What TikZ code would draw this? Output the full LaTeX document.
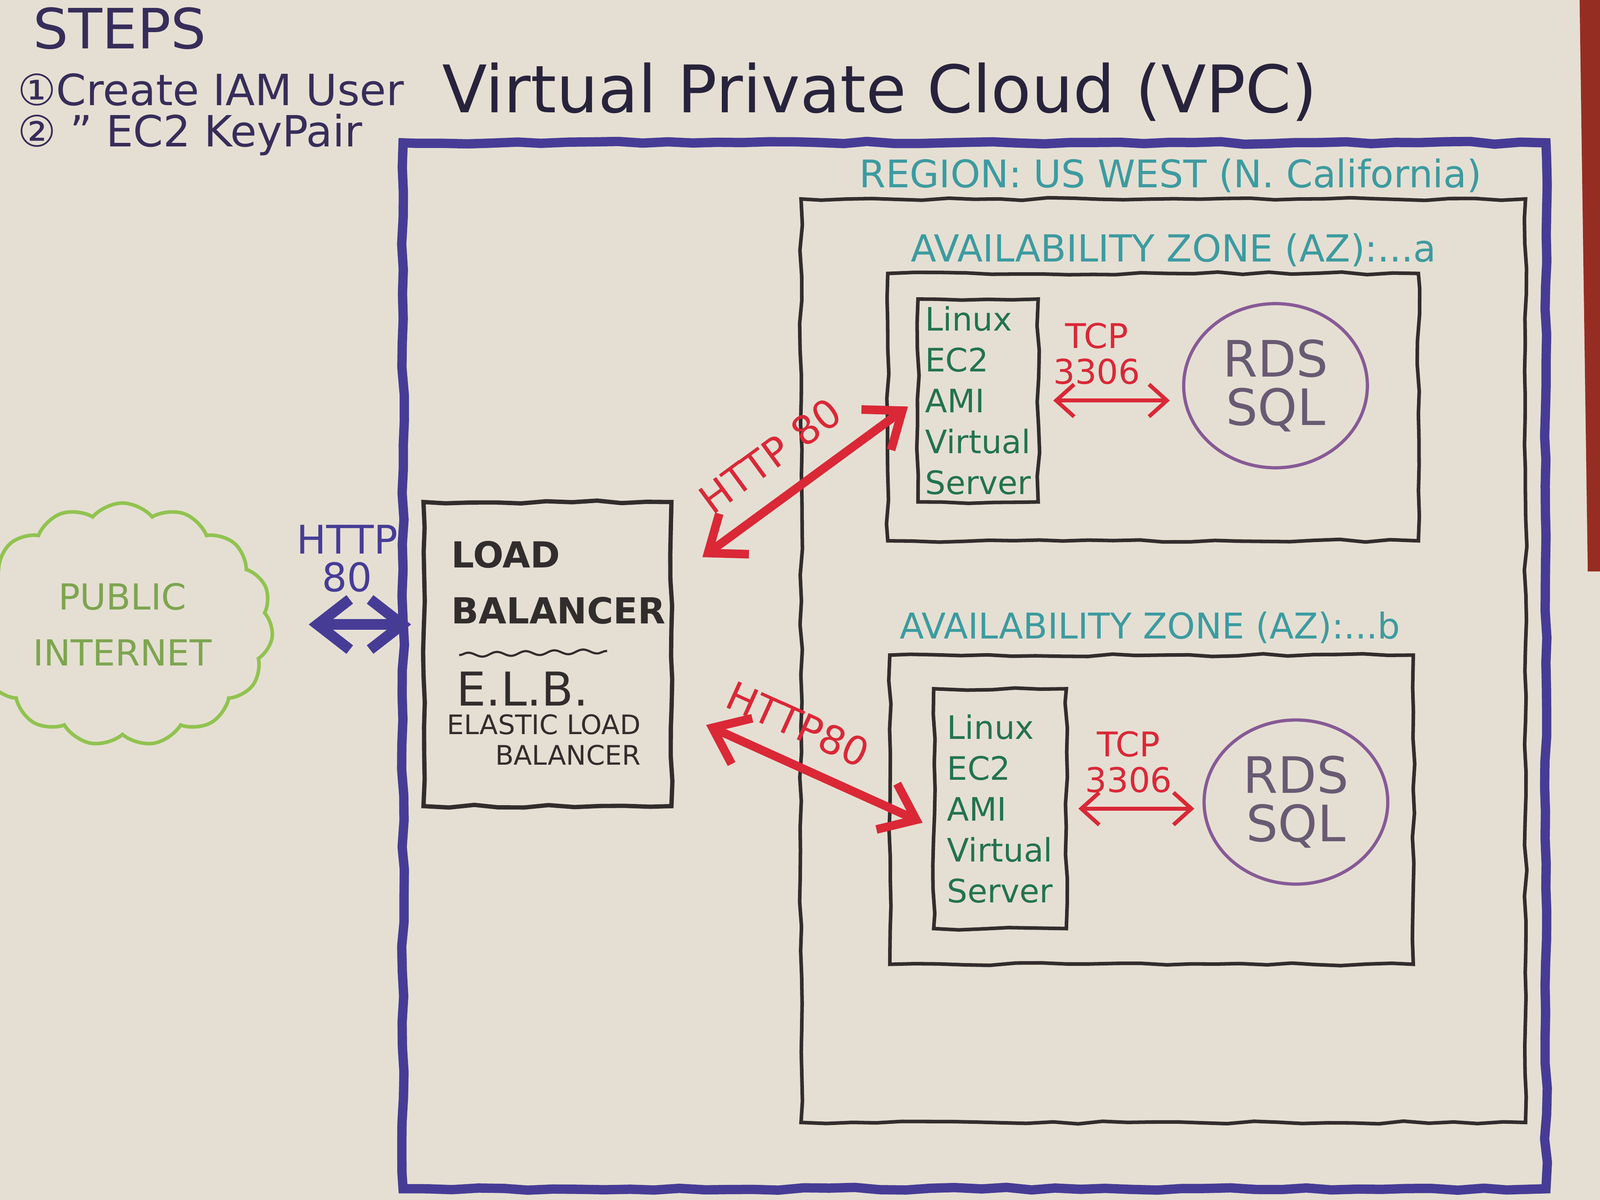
\documentclass[tikz,border=0pt]{standalone}
\usepackage{fontspec}
\setmainfont{DejaVu Sans}
\usetikzlibrary{arrows.meta,shapes.geometric,shapes.symbols,decorations.pathmorphing}

\definecolor{paper}{RGB}{229,223,211}
\definecolor{folder}{RGB}{150,45,35}
\definecolor{stepink}{RGB}{55,45,90}
\definecolor{titleink}{RGB}{40,35,60}
\definecolor{vpcblue}{RGB}{70,60,150}
\definecolor{pencil}{RGB}{50,45,45}
\definecolor{tealink}{RGB}{60,155,160}
\definecolor{redink}{RGB}{218,40,55}
\definecolor{ec2green}{RGB}{35,115,80}
\definecolor{rdspurple}{RGB}{135,90,150}
\definecolor{rdstext}{RGB}{105,90,115}
\definecolor{cloudgreen}{RGB}{145,195,80}
\definecolor{inettext}{RGB}{125,165,80}

\tikzset{
	sketch/.style={decorate, decoration={random steps, segment length=7pt, amplitude=0.4pt}},
	zonebox/.style={draw=pencil, line width=1pt, sketch},
	serverbox/.style={zonebox, align=left, text=ec2green, font=\fontsize{9}{11.4}\selectfont, inner sep=2pt},
	dbcircle/.style={ellipse, draw=rdspurple, line width=0.9pt, text=rdstext, align=center, font=\fontsize{14}{13.5}\selectfont},
	zonelabel/.style={text=tealink, font=\fontsize{10}{10}\selectfont},
	httparrow/.style={{Straight Barb[length=9pt,width=14pt]}-{Straight Barb[length=9pt,width=14pt]}, redink, line width=2.4pt},
	tcparrow/.style={{Straight Barb[length=5pt,width=9pt]}-{Straight Barb[length=5pt,width=9pt]}, redink, line width=1.1pt},
	httplabel/.style={text=redink, font=\fontsize{11}{11}\selectfont},
	tcplabel/.style={text=redink, align=center, font=\fontsize{9.5}{10}\selectfont},
}

\begin{document}
\begin{tikzpicture}
			%%%%% START %%%%%
			
			\useasboundingbox (0, 0) rectangle (15.68, -11.76);
			\fill[paper] (0, 0) rectangle (15.68, -11.76);
			\fill[folder] (15.48, 0) -- (15.68, 0) -- (15.68, -5.6) -- (15.56, -5.6) -- cycle;
			
			% steps
			\node[anchor=west, text=stepink, font=\fontsize{15.5}{15.5}\selectfont] (steps) at (0.2, -0.28) {STEPS};
			\node[anchor=west, text=stepink, font=\fontsize{12}{12}\selectfont] (stepone) at (0.05, -0.88) {①Create IAM User};
			\node[anchor=west, text=stepink, font=\fontsize{12}{12}\selectfont] (steptwo) at (0.05, -1.32) {② " EC2 KeyPair};
			
			% vpc
			\node[text=titleink, font=\fontsize{18.3}{18.3}\selectfont] (vpctitle) at (8.62, -0.9) {Virtual Private Cloud (VPC)};
			\node[draw=vpcblue, line width=2.6pt, sketch, minimum width=11.2cm, minimum height=10.25cm] (vpc) at (9.55, -6.525) {};
			
			% region
			\node[zonelabel, font=\fontsize{10.6}{10.6}\selectfont] (reglabel) at (11.47, -1.72) {REGION: US WEST (N. California)};
			\node[zonebox, minimum width=7.1cm, minimum height=9.05cm] (region) at (11.4, -6.475) {};
			
			% zone a
			\node[zonelabel, font=\fontsize{10.4}{10.4}\selectfont] (azalabel) at (11.5, -2.45) {AVAILABILITY ZONE (AZ):...a};
			\node[zonebox, minimum width=5.2cm, minimum height=2.62cm] (aza) at (11.3, -3.99) {};
			\node[serverbox, minimum width=1.07cm, minimum height=1.95cm] (eca) at (9.585, -3.925) {Linux\\EC2\\AMI\\Virtual\\Server};
			\node[dbcircle, minimum width=1.8cm, minimum height=1.28cm] (rdsa) at (12.5, -3.78) {RDS\\SQL};
			
			% zone b
			\node[zonelabel, font=\fontsize{9.9}{9.9}\selectfont] (azblabel) at (11.27, -6.15) {AVAILABILITY ZONE (AZ):...b};
			\node[zonebox, minimum width=5.13cm, minimum height=3.03cm] (azb) at (11.285, -7.935) {};
			\node[serverbox, minimum width=1.3cm, minimum height=2.35cm] (ecb) at (9.8, -7.925) {Linux\\EC2\\AMI\\Virtual\\Server};
			\node[dbcircle, minimum width=1.8cm, minimum height=1.43cm] (rdsb) at (12.7, -7.86) {RDS\\SQL};
			
			% load balancer
			\node[zonebox, line width=1.2pt, minimum width=2.43cm, minimum height=2.98cm] (lb) at (5.365, -6.41) {};
			\node[anchor=north west, align=left, text=pencil, font=\fontsize{10}{15.6}\selectfont\bfseries] (lbtitle) at (4.3, -5.18) {LOAD\\BALANCER};
			\draw[pencil, line width=0.6pt, decorate, decoration={snake, amplitude=0.6pt, segment length=8pt}] (4.5, -6.42) -- (5.95, -6.38);
			\node[text=pencil, font=\fontsize{13}{13}\selectfont] (elb) at (5.12, -6.75) {E.L.B.};
			\node[align=right, text=pencil, font=\fontsize{7.5}{8.5}\selectfont] (elbname) at (5.33, -7.25) {ELASTIC LOAD\\BALANCER};
			
			% internet
			\node[cloud, cloud puffs=15, cloud puff arc=100, aspect=1.3, draw=cloudgreen, line width=1pt, minimum width=2.35cm, minimum height=1.8cm, text=inettext, align=center, font=\fontsize{10}{15.6}\selectfont] (inet) at (1.2, -6.12) {PUBLIC\\INTERNET};
			
			% connections
			\draw[{Straight Barb[length=9pt,width=14pt]}-{Straight Barb[length=9pt,width=14pt]}, vpcblue, line width=3pt, shorten <=0.35cm, shorten >=0.1cm] (inet.east) -- (inet.east -| lb.west) node[midway, above=0.15cm, align=center, text=vpcblue, font=\fontsize{11}{10.5}\selectfont] {HTTP\\80};
			\draw[httparrow, shorten <=0.35cm, shorten >=0.1cm] (lb.31) -- (eca.west) node[pos=0.5, sloped, above=3pt, httplabel] {HTTP 80};
			\draw[httparrow, shorten <=0.35cm, shorten >=0.1cm] (lb.-24) -- (ecb.-165) node[pos=0.42, sloped, above=2pt, httplabel] {HTTP80};
			\draw[tcparrow, shorten <=0.13cm, shorten >=0.12cm] (eca.east) -- (eca.east -| rdsa.west) node[pos=0.4, above=0.02cm, tcplabel] {TCP\\3306};
			\draw[tcparrow, shorten <=0.1cm, shorten >=0.08cm] (ecb.east) -- (ecb.east -| rdsb.west) node[pos=0.45, above=0.02cm, tcplabel] {TCP\\3306};
			
			%%%%% END %%%%%
\end{tikzpicture}
\end{document}
